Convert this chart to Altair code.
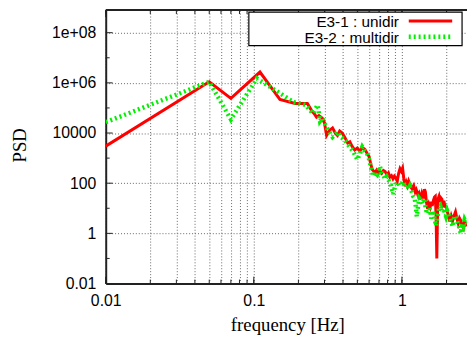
import altair as alt
import pandas as pd

# ---------------- data ----------------
series_names = ["E3-1 : unidir", "E3-2 : multidir"]
x_title = "frequency [Hz]"
y_title = "PSD"

freq_unidir = [0.01, 0.05, 0.07, 0.11, 0.15, 0.19, 0.23, 0.245, 0.255, 0.265,
               0.275, 0.29, 0.30, 0.31, 0.325, 0.34, 0.355, 0.367, 0.38, 0.395,
               0.41, 0.43, 0.445, 0.46, 0.48, 0.50, 0.52, 0.54, 0.56, 0.58,
               0.60, 0.615, 0.63, 0.645, 0.66, 0.675, 0.69, 0.71, 0.73, 0.75,
               0.77, 0.79, 0.81, 0.83, 0.85, 0.87, 0.89, 0.91, 0.93, 0.95,
               0.97, 0.99, 1.01, 1.03, 1.05, 1.07, 1.09, 1.11, 1.13, 1.15,
               1.17, 1.20, 1.23, 1.25, 1.28, 1.30, 1.32, 1.34, 1.36, 1.39,
               1.42, 1.44, 1.46, 1.49, 1.52, 1.55, 1.58, 1.60, 1.63, 1.66,
               1.68, 1.70, 1.72, 1.74, 1.76, 1.78, 1.81, 1.84, 1.86, 1.89,
               1.92, 1.95, 1.99, 2.02, 2.06, 2.10, 2.15, 2.20, 2.25, 2.30,
               2.35, 2.40, 2.45, 2.50, 2.55, 2.60, 2.65, 2.70, 2.75]
psd_unidir = [3.0e3, 1.1e6, 2.4e5, 2.7e6, 2.2e5, 1.5e5, 1.5e5, 8e4, 6e4, 4.3e4,
              5e4, 3.9e4, 2.5e4, 8e3, 1.3e4, 1.6e4, 1.0e4, 8e3, 1.2e4, 1.0e4,
              7e3, 4e3, 4.5e3, 3e3, 2.1e3, 2.5e3, 1.9e3, 2.6e3, 2.3e3, 1.6e3,
              1.15e3, 600, 350, 300, 270, 330, 260, 300, 250, 320,
              290, 220, 260, 175, 200, 150, 190, 160, 120, 250,
              380, 300, 400, 150, 75, 110, 80, 120, 90, 70,
              60, 80, 45, 55, 35, 40, 23, 30, 40, 25,
              58, 45, 20, 9.5, 15, 11, 18, 12.5, 20, 28,
              30, 5, 0.1, 8, 25, 30, 18, 25, 23, 15,
              20, 12, 11.5, 8, 5, 3.0, 5, 3.2, 5, 7.2,
              4, 2.5, 4, 3.2, 2, 1.6, 3, 2.2, 2.0]

freq_multidir = [0.01, 0.05, 0.07, 0.105, 0.14, 0.16, 0.185, 0.205, 0.225, 0.24,
                 0.25, 0.26, 0.27, 0.28, 0.29, 0.30, 0.32, 0.34, 0.355, 0.37,
                 0.385, 0.40, 0.42, 0.44, 0.47, 0.50, 0.52, 0.54, 0.56, 0.58,
                 0.60, 0.62, 0.64, 0.66, 0.68, 0.70, 0.71, 0.73, 0.75, 0.77,
                 0.79, 0.82, 0.84, 0.87, 0.89, 0.91, 0.94, 0.97, 1.00, 1.02,
                 1.05, 1.08, 1.11, 1.13, 1.16, 1.19, 1.22, 1.24, 1.26, 1.28,
                 1.31, 1.35, 1.38, 1.41, 1.44, 1.46, 1.50, 1.54, 1.58, 1.62,
                 1.66, 1.70, 1.74, 1.78, 1.82, 1.86, 1.90, 1.94, 1.98, 2.02,
                 2.06, 2.10, 2.15, 2.20, 2.25, 2.30, 2.35, 2.40, 2.45, 2.50,
                 2.55, 2.60, 2.65, 2.70, 2.75]
psd_multidir = [2.7e4, 1.1e6, 3.5e4, 1.5e6, 5e5, 3e5, 1.7e5, 1.5e5, 1.3e5, 8e4,
                6e4, 9e4, 1.3e5, 3e4, 4e4, 2.5e4, 1.2e4, 7e3, 9e3, 1.1e4,
                7e3, 6e3, 4.5e3, 3e3, 1.8e3, 870, 1.5e3, 2.8e3, 2e3, 1.6e3,
                900, 400, 190, 260, 220, 350, 470, 250, 200, 145,
                180, 120, 90, 37, 60, 90, 110, 80, 100, 120,
                70, 90, 60, 75, 49, 30, 25, 12, 4.7, 10,
                25, 20, 15, 25, 12, 8, 6, 10, 3.9, 8,
                4, 2.0, 5, 9.5, 12, 8, 10, 7.2, 5, 8,
                6, 4.7, 3, 1.9, 4, 5, 3.2, 2.5, 1.5, 1.0,
                2.5, 2.0, 3.5, 2.8, 2.5]

x_ticks = [0.01, 0.02, 0.03, 0.04, 0.05, 0.06, 0.07, 0.08, 0.09,
           0.1, 0.2, 0.3, 0.4, 0.5, 0.6, 0.7, 0.8, 0.9, 1, 2]
x_major = [0.01, 0.1, 1]
y_major = [0.01, 1, 100, 1e4, 1e6, 1e8]
y_minor = [0.1, 10, 1000, 1e5, 1e7]

# ---------------- layout ----------------
W, H = 366, 277
x_dom = [0.01, 2.75]
y_dom = [0.01, 10 ** 8.9]
FRAME = "#222222"
RED = "#ff0000"
GREEN = "#00f000"

xs = alt.Scale(type="log", domain=x_dom, nice=False)
ys = alt.Scale(type="log", domain=y_dom, nice=False)

df = pd.concat([
    pd.DataFrame({"series": series_names[0], "freq": freq_unidir, "psd": psd_unidir}),
    pd.DataFrame({"series": series_names[1], "freq": freq_multidir, "psd": psd_multidir}),
])

x_axis = alt.Axis(values=x_ticks, labelOverlap=False,
                  labelExpr="indexof([0.01, 0.1, 1], datum.value) >= 0 ? format(datum.value, '~g') : ''",
                  labelPadding=9, title="")
y_axis = alt.Axis(values=y_major, labelOverlap=False,
                  labelExpr="datum.value >= 1e5 ? '1e+0' + round(log(datum.value) / LN10) : format(datum.value, '~g')",
                  labelPadding=10, title="")

base = alt.Chart(df)

red_line = base.transform_filter(alt.datum.series == series_names[0]).mark_line(
    color=RED, strokeWidth=3, clip=True
).encode(
    x=alt.X("freq:Q", scale=xs, axis=x_axis),
    y=alt.Y("psd:Q", scale=ys, axis=y_axis),
)
green_line = base.transform_filter(alt.datum.series == series_names[1]).mark_line(
    color=GREEN, strokeWidth=4.5, strokeDash=[2, 3], clip=True
).encode(
    x=alt.X("freq:Q", scale=xs, axis=x_axis),
    y=alt.Y("psd:Q", scale=ys, axis=y_axis),
)

# frame / inward ticks (gnuplot style)
one = pd.DataFrame({"k": [0]})
top_rule = alt.Chart(one).mark_rule(color=FRAME, strokeWidth=2).encode(
    x=alt.value(0), x2=alt.value(W + 2), y=alt.value(0))

xt_df = pd.DataFrame({"freq": x_ticks})
xM_df = pd.DataFrame({"freq": x_major})
yM_df = pd.DataFrame({"psd": y_major})
ym_df = pd.DataFrame({"psd": y_minor})


def xtick(d, y0, y1):
    return alt.Chart(d).mark_rule(color=FRAME, strokeWidth=1).encode(
        x=alt.X("freq:Q", scale=xs, axis=x_axis), y=alt.value(y0), y2=alt.value(y1))


def ytick(d, length):
    return alt.Chart(d).mark_rule(color=FRAME, strokeWidth=1).encode(
        y=alt.Y("psd:Q", scale=ys, axis=y_axis), x=alt.value(0), x2=alt.value(length))


ticks = [xtick(xt_df, H, H - 4), xtick(xM_df, H, H - 7),
         xtick(xt_df, 0, 4), xtick(xM_df, 0, 7),
         ytick(ym_df, 4), ytick(yM_df, 7)]

# axis titles (serif, as in the gnuplot original)
x_title_mark = alt.Chart(one).mark_text(
    align="center", baseline="middle", font="Liberation Serif", fontSize=19, color="black"
).encode(x=alt.value(184.5), y=alt.value(319), text=alt.value(x_title))
y_title_mark = alt.Chart(one).mark_text(
    align="center", baseline="middle", font="Liberation Serif", fontSize=19, color="black",
    angle=270
).encode(x=alt.value(-87), y=alt.value(137), text=alt.value(y_title))

# legend (gnuplot style: text left of sample, boxed)
leg_box = alt.Chart(one).mark_rect(fill="white", stroke="black", strokeWidth=1.2).encode(
    x=alt.value(145), x2=alt.value(361), y=alt.value(2), y2=alt.value(36))
leg_t1 = alt.Chart(one).mark_text(align="right", baseline="middle", font="Liberation Sans",
                                  fontSize=15.5, color="black").encode(
    x=alt.value(297), y=alt.value(12), text=alt.value(series_names[0]))
leg_t2 = alt.Chart(one).mark_text(align="right", baseline="middle", font="Liberation Sans",
                                  fontSize=15.5, color="black").encode(
    x=alt.value(297), y=alt.value(28), text=alt.value(series_names[1]))
leg_l1 = alt.Chart(one).mark_rule(color=RED, strokeWidth=3).encode(
    x=alt.value(307), x2=alt.value(351), y=alt.value(11))
leg_l2 = alt.Chart(one).mark_rule(color=GREEN, strokeWidth=4.5, strokeDash=[2, 3]).encode(
    x=alt.value(307), x2=alt.value(351), y=alt.value(27))

chart = alt.layer(
    red_line, green_line, top_rule, *ticks, x_title_mark, y_title_mark,
    leg_box, leg_t1, leg_t2, leg_l1, leg_l2
).properties(
    width=W, height=H,
    autosize=alt.AutoSizeParams(type="none"),
    padding={"left": 99, "top": 0, "right": 0, "bottom": 50},
    background="white",
).configure_view(
    strokeWidth=0
).configure_axis(
    grid=True, gridDash=[1, 2], gridColor="#666666", gridWidth=1, gridOpacity=1,
    tickSize=0, labelFlush=False,
    labelFont="Liberation Sans", labelFontSize=16, labelColor="black",
    domainColor=FRAME, domainWidth=2,
)

chart.save("out.html", embed_options={"renderer": "svg", "actions": False})
